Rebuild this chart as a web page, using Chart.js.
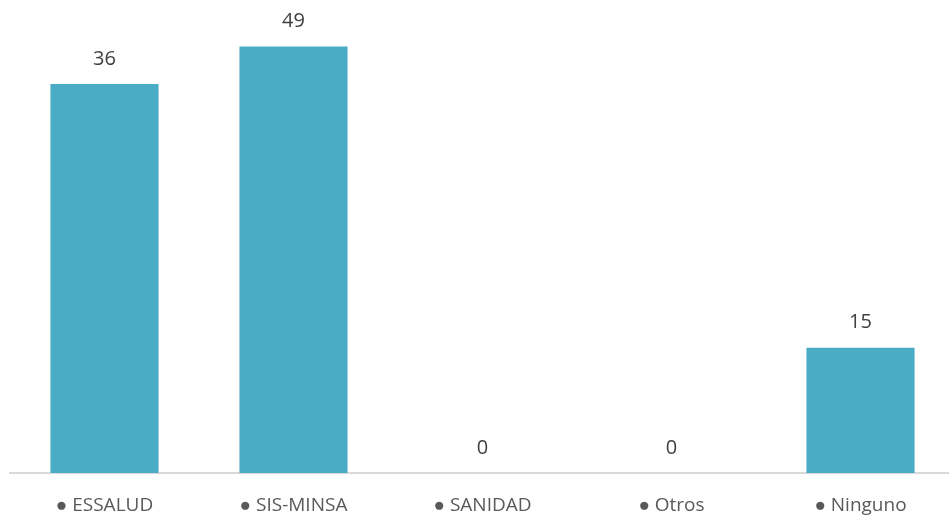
<!DOCTYPE html>
<html>
<head>
<meta charset="utf-8">
<script src="https://cdn.jsdelivr.net/npm/chart.js@4/dist/chart.umd.min.js"></script>
<style>
  html, body { margin: 0; padding: 0; background: #fff; overflow: hidden; }
  #wrap { width: 955px; height: 517px; }
</style>
</head>
<body>
<div id="wrap"><canvas id="myChart"></canvas></div>
<script>
// categories and values
const categories = ["● ESSALUD", "● SIS-MINSA", "● SANIDAD", "● Otros", "● Ninguno"];
const counts = [36, 49, 0, 0, 15];           // printed labels
const barHeights = [44.7, 49, 0, 0, 14.4];    // bar heights as drawn in the original
const barColor = "#4BACC6";

// draws the number above each bar
const countLabels = {
    id: "countLabels",
    afterDatasetsDraw(chart) {
        const ctx = chart.ctx;
        const meta = chart.getDatasetMeta(0);
        ctx.save();
        ctx.font = "20px 'Open Sans'";
        ctx.fillStyle = "#404040";
        ctx.textAlign = "center";
        ctx.textBaseline = "middle";
        meta.data.forEach((bar, i) => {
            ctx.fillText(String(counts[i]), bar.x, bar.y - 25);
        });
        ctx.restore();
    }
};

new Chart("myChart", {
    type: "bar",
    data: {
        labels: categories,
        datasets: [{
            backgroundColor: barColor,
            data: barHeights,
            categoryPercentage: 1,
            barPercentage: 0.572
        }]
    },
    options: {
        responsive: true,
        maintainAspectRatio: false,
        animation: false,
        layout: { padding: { left: 10, right: 0, top: 3, bottom: 0 } },
        plugins: { legend: { display: false }, tooltip: { enabled: false } },
        scales: {
            x: {
                grid: { display: false, drawTicks: false },
                border: { color: "#d9d9d9", width: 2 },
                ticks: {
                    color: "#595959",
                    font: { family: "'Open Sans'", size: 19 },
                    padding: 21,
                    maxRotation: 0
                },
                afterFit(scale) { scale.height = 44; }
            },
            y: {
                display: false,
                min: 0,
                max: 54
            }
        }
    },
    plugins: [countLabels]
});
</script>
</body>
</html>
